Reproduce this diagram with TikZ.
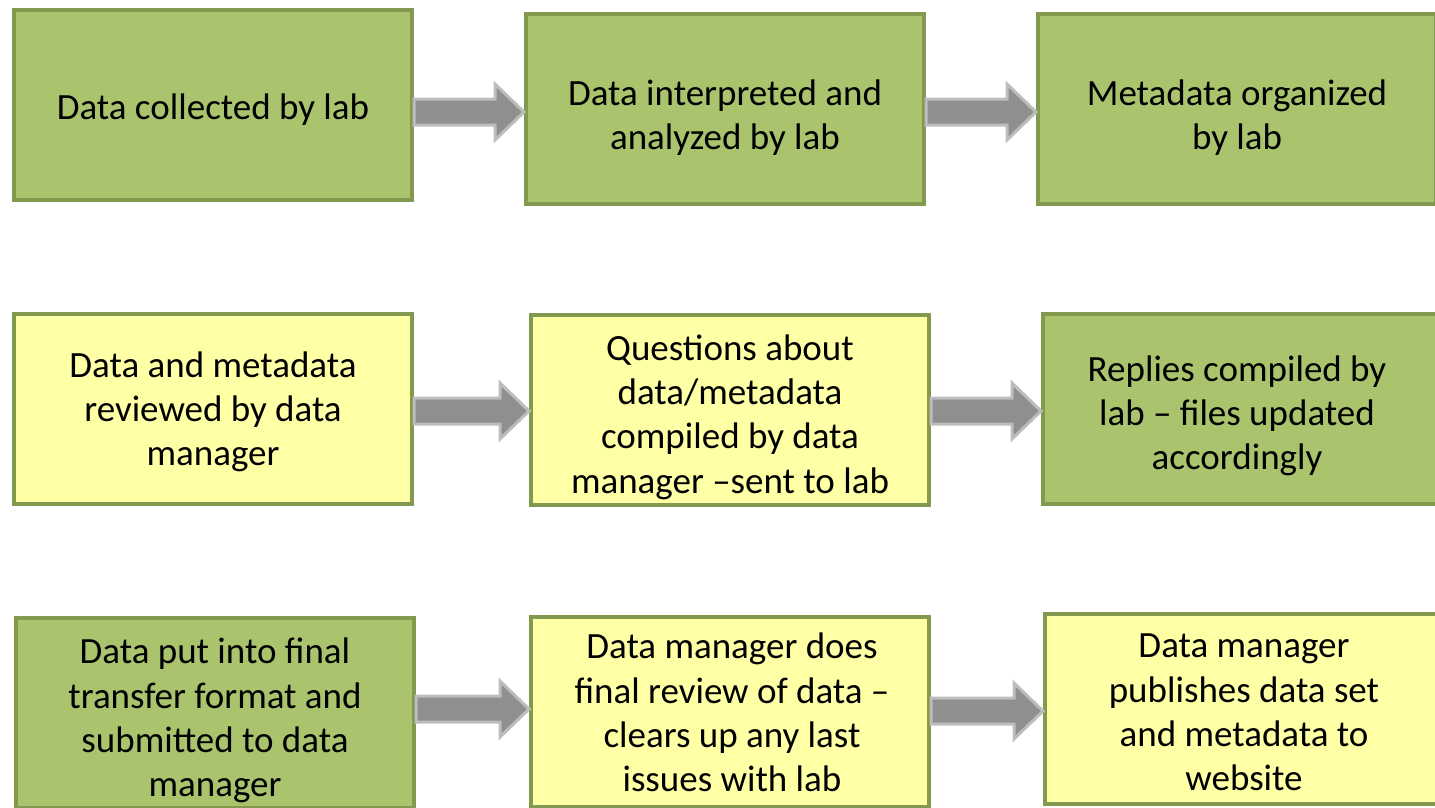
\documentclass[tikz,border=0pt]{standalone}
\usepackage{fontspec}
\setmainfont{Carlito}
\usetikzlibrary{calc}
\definecolor{gfill}{HTML}{AAC46E}
\definecolor{yfill}{HTML}{FFFFA6}
\definecolor{bord}{HTML}{83994F}
\definecolor{arrfill}{HTML}{8F8F8F}
\definecolor{arrline}{HTML}{BDBDBD}
\tikzset{
  box/.style={draw=bord, line width=4pt, minimum width=398pt, minimum height=190pt, inner sep=0pt},
  gbox/.style={box, fill=gfill},
  ybox/.style={box, fill=yfill},
  txt/.style={align=center, inner sep=0pt, font=\fontsize{37}{44.3}\selectfont},
  blkarrow/.style={draw=arrline, fill=arrfill, line width=3pt, line join=miter}
}
\newcommand\blockarrow[2]{%
  \draw[blkarrow] ($(#1)+(0,-13)$) -- ($(#2)+(-29,-13)$) -- ($(#2)+(-29,-28)$) -- (#2)
    -- ($(#2)+(-29,28)$) -- ($(#2)+(-29,13)$) -- ($(#1)+(0,13)$) -- cycle;}
\begin{document}
\begin{tikzpicture}[x=1pt,y=-1pt]
\useasboundingbox (0,0) rectangle (1435,807);
% row 1
\node[gbox] (A) at (213,104.5) {};
\node[gbox] (B) at (725,109) {};
\node[gbox] (C) at (1237,109) {};
% row 2
\node[ybox] (D) at (213,408.5) {};
\node[ybox] (E) at (730,409.5) {};
\node[gbox] (F) at (1242,408.5) {};
% row 3
\node[gbox] (G) at (215,713) {};
\node[ybox] (H) at (730,712) {};
\node[ybox] (I) at (1244,709) {};
% texts
\node[txt] (At) at (213,110) {Data collected by lab};
\node[txt] (Bt) at (725,117.5) {Data interpreted and\\analyzed by lab};
\node[txt] (Ct) at (1237,117.5) {Metadata organized\\by lab};
\node[txt] (Dt) at (213,412) {Data and metadata\\reviewed by data\\manager};
\node[txt] (Et) at (730,417) {Questions about\\data/metadata\\compiled by data\\manager –sent to lab};
\node[txt] (Ft) at (1237,416) {Replies compiled by\\lab – files updated\\accordingly};
\node[txt] (Gt) at (215,720.5) {Data put into final\\transfer format and\\submitted to data\\manager};
\node[txt] (Ht) at (732,712.5) {Data manager does\\final review of data –\\clears up any last\\issues with lab};
\node[txt] (It) at (1244,712.5) {Data manager\\publishes data set\\and metadata to\\website};
% arrow end points
\coordinate (a1s) at (A.east |- 0,112);  \coordinate (a1e) at (B.west |- 0,112);
\coordinate (a2s) at (B.east |- 0,112);  \coordinate (a2e) at (C.west |- 0,112);
\coordinate (a3s) at (D.east |- 0,411);  \coordinate (a3e) at (E.west |- 0,411);
\coordinate (a4s) at (E.east |- 0,411);  \coordinate (a4e) at (F.west |- 0,411);
\coordinate (a5s) at (G.east |- 0,709);  \coordinate (a5e) at (H.west |- 0,709);
\coordinate (a6s) at (H.east |- 0,711);  \coordinate (a6e) at (I.west |- 0,711);
\blockarrow{a1s}{a1e}
\blockarrow{a2s}{a2e}
\blockarrow{a3s}{a3e}
\blockarrow{a4s}{a4e}
\blockarrow{a5s}{a5e}
\blockarrow{a6s}{a6e}
\end{tikzpicture}
\end{document}
